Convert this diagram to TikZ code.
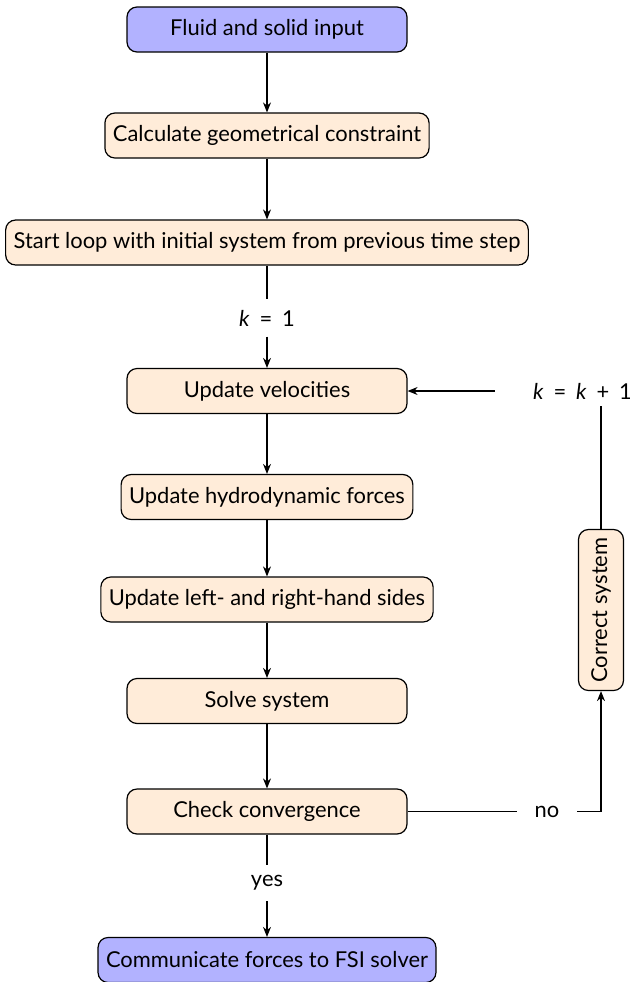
\documentclass[tikz,border=0pt]{standalone}
\usepackage{fontspec}
\setmainfont{Lato}
\usetikzlibrary{arrows.meta}
\tikzset{
	stepbox/.style={draw,rounded corners=5pt,fill=orange!15,minimum width=140pt,minimum height=22.5pt,inner xsep=4pt},
	endbox/.style={stepbox,fill=blue!30},
	tag/.style={inner sep=5pt},
	flow/.style={-{Stealth[length=5pt,width=4pt]}},
}
\newcommand{\gap}{\hspace{0.45em}}
\begin{document}
\begin{tikzpicture}[x=0.5pt,y=-0.5pt,semithick,font=\fontsize{10.95}{13}\selectfont]
			\useasboundingbox(0,0)rectangle(630,982);
			\node[endbox](input)at(267,29.5){Fluid and solid input};
			\node[stepbox](constraint)at(267,135.5){Calculate geometrical constraint};
			\node[stepbox](start)at(267,242.5){Start loop with initial system from previous time step};
			\node[tag](kone)at(267,318){\textit{k}\gap=\gap1};
			\node[stepbox](velocities)at(267,391){Update velocities};
			\node[stepbox](forces)at(267,497){Update hydrodynamic forces};
			\node[stepbox](sides)at(267,599.5){Update left- and right-hand sides};
			\node[stepbox](solve)at(267,701){Solve system};
			\node[stepbox](check)at(267,811.5){Check convergence};
			\node[tag](yes)at(267,883){yes};
			\node[endbox](communicate)at(267,960){Communicate forces to FSI solver};
			\node[stepbox,rotate=90,minimum width=80pt](correct)at(601,610){Correct system};
			\node[inner xsep=1pt,inner ysep=3pt](knext)at(582.5,391){\textit{k}\gap=\gap\textit{k}\gap+\gap1};
			\coordinate(corner)at(601,811.5);
			\draw[flow](input)--(constraint);
			\draw[flow](constraint)--(start);
			\draw(start)--(kone);
			\draw[flow](kone)--(velocities);
			\draw[flow](velocities)--(forces);
			\draw[flow](forces)--(sides);
			\draw[flow](sides)--(solve);
			\draw[flow](solve)--(check);
			\draw(check)--(yes);
			\draw[flow](yes)--(communicate);
			\draw[flow](check)--(corner)node[pos=0.72,fill=white,inner xsep=9pt]{no}--(correct);
			\draw(correct)--(knext.south-|correct);
			\draw[flow,shorten <=18pt](knext)--(velocities);
		\end{tikzpicture}
\end{document}
